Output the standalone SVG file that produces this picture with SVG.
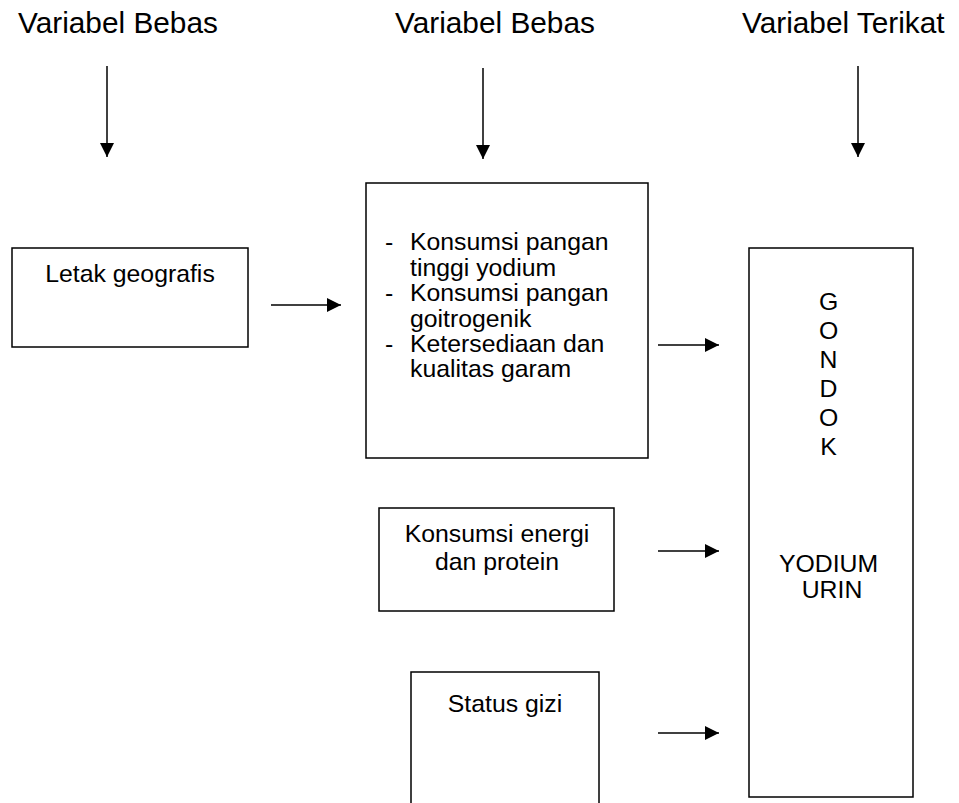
<svg xmlns="http://www.w3.org/2000/svg" width="959" height="803" viewBox="0 0 959 803">
<defs>
<marker id="ah" viewBox="0 0 14 14" refX="14" refY="7" markerWidth="14" markerHeight="14" markerUnits="userSpaceOnUse" orient="auto">
<path d="M0,0 L14,7 L0,14 Z" fill="#000"/>
</marker>
</defs>
<style>
text{font-family:"Liberation Sans",Arial,sans-serif;fill:#000}
.h{font-size:29.8px}
.b{font-size:24.8px}
.box{fill:#fff;stroke:#000;stroke-width:1.5}
.c{stroke:#000;stroke-width:1.5;fill:none;marker-end:url(#ah)}
</style>
<rect width="959" height="803" fill="#fff"/>
<g id="headings">
<text class="h" x="18" y="33">Variabel Bebas</text>
<text class="h" x="395" y="33">Variabel Bebas</text>
<text class="h" x="742" y="33">Variabel Terikat</text>
</g>
<g id="letak">
<rect class="box" x="12" y="248" width="236" height="99"/>
<text class="b" x="130" y="282" text-anchor="middle">Letak geografis</text>
</g>
<g id="pangan">
<rect class="box" x="366" y="183" width="282" height="275"/>
<text class="b">
<tspan x="385" y="250">-</tspan><tspan x="410" y="250">Konsumsi pangan</tspan>
<tspan x="410" y="276">tinggi yodium</tspan>
<tspan x="385" y="301">-</tspan><tspan x="410" y="301">Konsumsi pangan</tspan>
<tspan x="410" y="327">goitrogenik</tspan>
<tspan x="385" y="352">-</tspan><tspan x="410" y="352">Ketersediaan dan</tspan>
<tspan x="410" y="377">kualitas garam</tspan>
</text>
</g>
<g id="energi">
<rect class="box" x="379" y="508" width="235" height="103"/>
<text class="b" x="497" y="542" text-anchor="middle">Konsumsi energi</text>
<text class="b" x="497" y="570" text-anchor="middle">dan protein</text>
</g>
<g id="gizi">
<rect class="box" x="411" y="672" width="188" height="140"/>
<text class="b" x="505" y="712" text-anchor="middle">Status gizi</text>
</g>
<g id="gondok">
<rect class="box" x="749" y="248" width="164" height="549"/>
<text class="b" text-anchor="middle">
<tspan x="832" y="310">G</tspan>
<tspan x="832" y="339">O</tspan>
<tspan x="832" y="368">N</tspan>
<tspan x="832" y="397">D</tspan>
<tspan x="832" y="426">O</tspan>
<tspan x="832" y="455">K</tspan>
<tspan x="832" y="572">YODIUM</tspan>
<tspan x="832" y="598">URIN</tspan>
</text>
</g>
<g id="connectors">
<line class="c" x1="107" y1="66" x2="107" y2="157"/>
<line class="c" x1="483" y1="68" x2="483" y2="159"/>
<line class="c" x1="858" y1="66" x2="858" y2="157"/>
<line class="c" x1="271" y1="305" x2="341" y2="305"/>
<line class="c" x1="658" y1="345" x2="719" y2="345"/>
<line class="c" x1="658" y1="551" x2="719" y2="551"/>
<line class="c" x1="658" y1="733" x2="719" y2="733"/>
</g>
</svg>
